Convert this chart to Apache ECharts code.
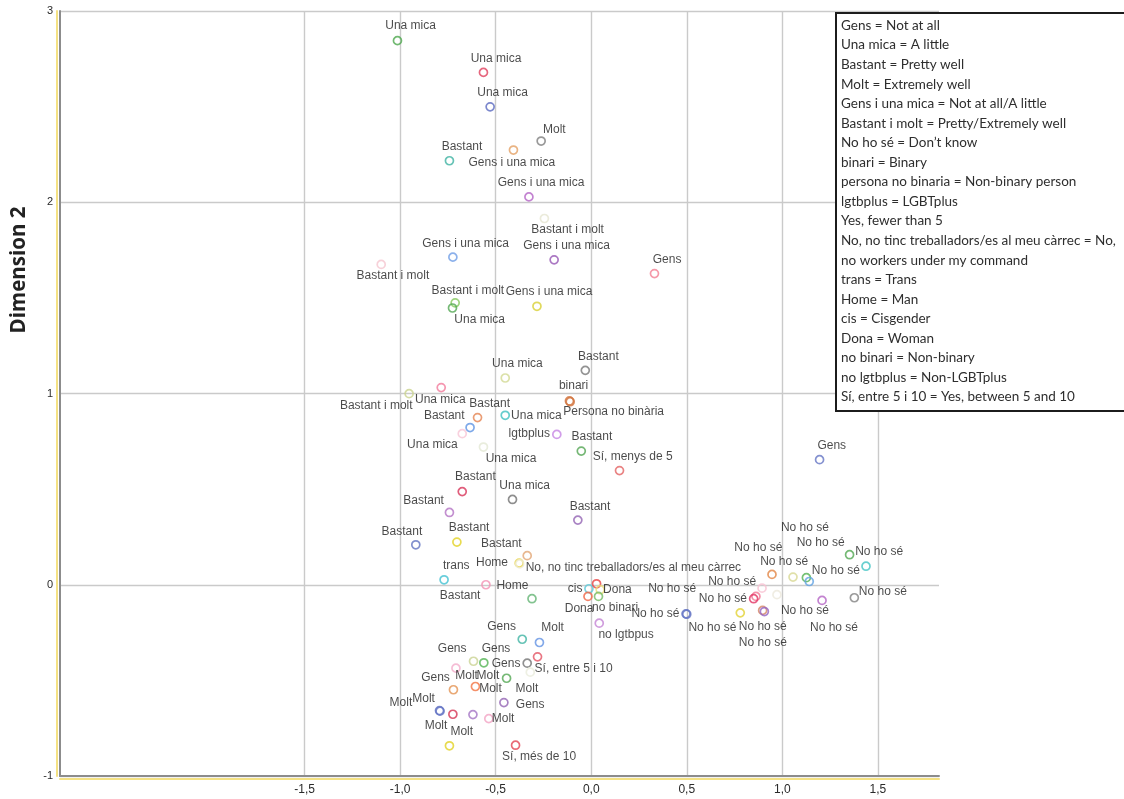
<!DOCTYPE html>
<html>
<head>
<meta charset="utf-8">
<title>Dimension 1 × Dimension 2</title>
<script src="https://cdn.jsdelivr.net/npm/echarts@6.0.0/dist/echarts.min.js"></script>
<style>
  html, body { margin: 0; padding: 0; background: #fff; }
  #chart { width: 1124px; height: 799px; }
</style>
</head>
<body>
<div id="chart"></div>
<script>
// Category points of the joint plot (dimension 1, dimension 2)
const pointLabels = [
  'Una mica', 'Una mica', 'Una mica', 'Molt', 'Gens i una mica', 'Bastant', 'Gens i una mica', 'Bastant i molt',
  'Gens i una mica', 'Gens i una mica', 'Gens', 'Bastant i molt', 'Bastant i molt', 'Una mica', 'Gens i una mica',
  'Bastant', 'Una mica', 'Bastant i molt', 'Una mica', 'binari', 'Persona no binària', 'Bastant', 'Una mica',
  'Bastant', 'Una mica', 'Una mica', 'lgtbplus', 'Bastant', 'Sí, menys de 5', 'Bastant', 'Una mica', 'Bastant',
  'Bastant', 'Gens', 'Bastant', 'Bastant', 'Bastant', 'Home', 'No, no tinc treballadors/es al meu càrrec',
  'trans', 'Bastant', 'Home', 'cis', 'Dona', '', 'Dona', 'no binari', 'no lgtbpus', 'No ho sé',
  'No ho sé', 'No ho sé', 'No ho sé', 'No ho sé', '', 'No ho sé', 'No ho sé', 'No ho sé', 'No ho sé',
  'No ho sé', 'No ho sé', 'No ho sé', 'No ho sé', 'No ho sé', 'No ho sé', 'No ho sé',
  'Gens', 'Molt', 'Sí, entre 5 i 10', 'Gens', 'Gens', 'Gens', 'Molt', 'Molt', 'Gens', 'Molt', 'Gens', 'Molt',
  'Molt', 'Molt', '', 'Molt', 'Molt', 'Sí, més de 10', 'Molt'
];

const dim1 = [
  -1.014, -0.564, -0.529, -0.262, -0.407, -0.742, -0.326, -0.245,
  -0.724, -0.194, 0.331, -1.099, -0.712, -0.726, -0.284,
  -0.031, -0.450, -0.953, -0.785, -0.114, -0.110, -0.595, -0.450,
  -0.634, -0.675, -0.564, -0.180, -0.052, 0.148, -0.675, -0.412, -0.742,
  -0.070, 1.195, -0.918, -0.703, -0.335, -0.377, -0.374,
  -0.770, -0.551, -0.310, -0.012, 0.028, 0.047, -0.017, 0.038, 0.042, 0.496,
  0.946, 1.056, 1.126, 1.141, 1.352, 1.438, 0.894, 0.862, 0.850,
  0.972, 1.377, 1.208, 0.780, 0.897, 0.906, 0.500,
  -0.361, -0.271, -0.281, -0.335, -0.616, -0.562, -0.708, -0.443, -0.721, -0.606, -0.457, -0.319,
  -0.794, -0.724, -0.619, -0.536, -0.742, -0.396, -0.791
];

const dim2 = [
  2.845, 2.679, 2.499, 2.320, 2.273, 2.217, 2.028, 1.915,
  1.713, 1.699, 1.627, 1.675, 1.474, 1.447, 1.456,
  1.121, 1.081, 0.999, 1.031, 0.961, 0.957, 0.874, 0.886,
  0.822, 0.790, 0.720, 0.786, 0.699, 0.597, 0.487, 0.446, 0.378,
  0.338, 0.654, 0.209, 0.223, 0.152, 0.113, 0.109,
  0.026, 0.000, -0.073, -0.021, 0.005, -0.026, -0.061, -0.061, -0.201, -0.152,
  0.054, 0.040, 0.037, 0.017, 0.157, 0.097, -0.018, -0.061, -0.073,
  -0.052, -0.068, -0.082, -0.147, -0.134, -0.140, -0.154,
  -0.285, -0.302, -0.377, -0.410, -0.400, -0.408, -0.436, -0.489, -0.549, -0.532, -0.616, -0.457,
  -0.658, -0.677, -0.679, -0.700, -0.842, -0.839, -0.661
];

// Ring colour of each point
const pointColors = [
  '#4ea84e', '#e0405e', '#5b6ac0', '#808080', '#e3a064', '#3fb3a3', '#b464c6', '#e6e6d2',
  '#6f9de6', '#9656b4', '#f28094', '#f5c6cf', '#86c95e', '#52a852', '#d8d034',
  '#787878', '#d2d994', '#cbd38e', '#f27c9c', '#d2743e', '#d2743e', '#e58552', '#3fc0c0',
  '#5e94e3', '#f8c6d6', '#e4e8d4', '#c585e3', '#52a552', '#e36464', '#d8345a', '#727272', '#b474c4',
  '#9464b4', '#6576c4', '#6374c2', '#e2d224', '#e2a676', '#e6d244', '#efecd6',
  '#44c2d2', '#f292b4', '#64b474', '#5ec8d8', '#e84444', '#eadc78', '#f06444', '#74ba64', '#c484d4', '#6576c4',
  '#e28444', '#d8d894', '#52b252', '#62a2e2', '#52a852', '#44c4c4', '#f8c2d2', '#f27494', '#e23464',
  '#ece8dc', '#828282', '#b464c4', '#e2d234', '#d48464', '#9464c4', '#6576c4',
  '#40b4a4', '#6494e4', '#e45464', '#747474', '#cbd394', '#54b454', '#f2acca', '#54a854', '#e49454', '#f27444', '#9464b4', '#eaecdc',
  '#6474c4', '#d43454', '#a474c4', '#f2a4c4', '#e2d224', '#e44454', '#6474c4'
];

// Where each text sits relative to its point (pixels, text centre)
const labelOffsets = [
  [14, -14], [13.4, -13.3], [13.3, -13.4], [14, -11], [-0.8, 13.3], [13.4, -13.7], [13, -13.4], [24, 11.7],
  [13.6, -12.7], [13.2, -13], [13.5, -13.3], [12.5, 12.4], [13.5, -11], [28, 13], [13, -13.7],
  [14, -13.3], [13, -13.7], [-32, 12.7], [0, 13.4], [5, -14], [44.3, 11.2], [13, -13.3], [32, 1],
  [-25, -10.6], [-29, 11.7], [28.4, 12.3], [-26.7, 0], [11.5, -13.7], [14, -12.6], [14, -13.6], [13, -13], [-25, -11],
  [13, -13], [13, -13.3], [-13, -12.6], [13, -13.4], [-25, -11.3], [-26.3, 0], [114.5, 4.2],
  [13, -13.3], [-25, 11.7], [-18.7, -12.3], [-13, 1], [21.7, 6.7], [0, 0], [-8, 13.3], [17.5, 12.3], [27.7, 12.3], [-29.7, 1],
  [13, -11.7], [12.8, -48.4], [30.3, -6.6], [12.3, -37.7], [0, 0], [14, -13.4], [-2.9, -40], [-22.9, -14.3], [-30, 0.7],
  [28.8, 16.7], [29.3, -5], [12.8, 28.3], [-27, 15.4], [1, 16.7], [-0.7, 31.7], [-13.7, -24.5],
  [-19.8, -11.4], [14, -13.7], [36.9, 12.7], [-20.3, 1], [-20.5, -11.4], [13, -13], [11.5, 8.3], [-17.8, -1.7],
  [-17.1, -11.6], [15.9, 3.3], [27.1, 3.3], [-2.5, 17.6],
  [-15.1, -10.7], [-16, 12.3], [0, 0], [15.1, 0.7], [13.2, -13.6], [24.4, 12], [-38.3, -7.8]
];

const xTickValues = [-1.5, -1.0, -0.5, 0, 0.5, 1.0, 1.5];
const yAxisTitle = 'Dimension 2';

// Key explaining the Catalan category names
const keyLines = [
  'Gens = Not at all',
  'Una mica = A little',
  'Bastant = Pretty well',
  'Molt = Extremely well',
  'Gens i una mica = Not at all/A little',
  'Bastant i molt = Pretty/Extremely well',
  'No ho sé = Don\u2019t know',
  'binari = Binary',
  'persona no binaria = Non-binary person',
  'lgtbplus = LGBTplus',
  'Yes, fewer than 5',
  'No, no tinc treballadors/es al meu càrrec = No,',
  'no workers under my command',
  'trans = Trans',
  'Home = Man',
  'cis = Cisgender',
  'Dona = Woman',
  'no binari = Non-binary',
  'no lgtbplus = Non-LGBTplus',
  'Sí, entre 5 i 10 = Yes, between 5 and 10'
];

const SYMBOL_SIZE = 8;
const half = SYMBOL_SIZE / 2;

const points = pointLabels.map((name, i) => ({
  name: name,
  value: [dim1[i], dim2[i]],
  itemStyle: { borderColor: pointColors[i] },
  label: {
    show: name !== '',
    position: [half + labelOffsets[i][0], half + labelOffsets[i][1]]
  }
}));

const chart = echarts.init(document.getElementById('chart'), null, { renderer: 'canvas' });

const commaFmt = v => v.toFixed(1).replace('.', ',');

chart.setOption({
  animation: false,
  backgroundColor: '#ffffff',
  grid: { left: 60, right: 185, top: 11, bottom: 23, containLabel: false },
  xAxis: {
    type: 'value',
    min: -2.78,
    max: 1.82,
    axisLine: {
      show: true, onZero: false,
      lineStyle: { color: '#8c8c8c', width: 2, shadowColor: '#f4e183', shadowOffsetY: 3, shadowBlur: 0 }
    },
    axisTick: { show: false, customValues: xTickValues },
    axisLabel: {
      customValues: xTickValues,
      formatter: commaFmt,
      color: '#2a2a2a', fontFamily: 'Liberation Sans, Arial, sans-serif', fontSize: 12, margin: 8
    },
    splitLine: { show: true, lineStyle: { color: '#cacaca', width: 1.4 } }
  },
  yAxis: {
    type: 'value',
    min: -1,
    max: 3,
    interval: 1,
    axisLine: {
      show: true, onZero: false,
      lineStyle: { color: '#8c8c8c', width: 2, shadowColor: '#f4e183', shadowOffsetX: -3, shadowBlur: 0 }
    },
    axisTick: { show: false },
    axisLabel: {
      color: '#2a2a2a', fontFamily: 'Liberation Sans, Arial, sans-serif', fontSize: 11, margin: 7
    },
    splitLine: { show: true, lineStyle: { color: '#cacaca', width: 1.4 } }
  },
  series: [{
    type: 'scatter',
    symbol: 'circle',
    symbolSize: SYMBOL_SIZE,
    itemStyle: { color: 'rgba(0,0,0,0)', borderWidth: 1.7 },
    label: {
      formatter: '{b}',
      align: 'center',
      verticalAlign: 'middle',
      color: '#1c1c1c',
      fontFamily: 'Liberation Sans, Arial, sans-serif',
      fontSize: 12
    },
    emphasis: { disabled: true },
    data: points
  }],
  graphic: [
    {
      type: 'text',
      x: 19, y: 270,
      rotation: Math.PI / 2,
      style: {
        text: yAxisTitle,
        font: 'bold 20.5px "Open Sans", "Noto Sans", sans-serif',
        fill: '#222',
        align: 'center',
        verticalAlign: 'middle'
      }
    },
    {
      type: 'group',
      z: 100,
      children: [
        {
          type: 'rect',
          z: 100,
          shape: { x: 836, y: 13, width: 320, height: 398 },
          style: { fill: '#ffffff', stroke: '#1c1c1c', lineWidth: 2 }
        },
        {
          type: 'text',
          z: 101,
          x: 841, y: 15.8,
          style: {
            text: keyLines.join('\n'),
            font: '13.5px Lato, "Noto Sans", sans-serif',
            lineHeight: 19.55,
            fill: '#2e2e2e',
            align: 'left',
            verticalAlign: 'top'
          }
        }
      ]
    }
  ]
});
</script>
</body>
</html>
